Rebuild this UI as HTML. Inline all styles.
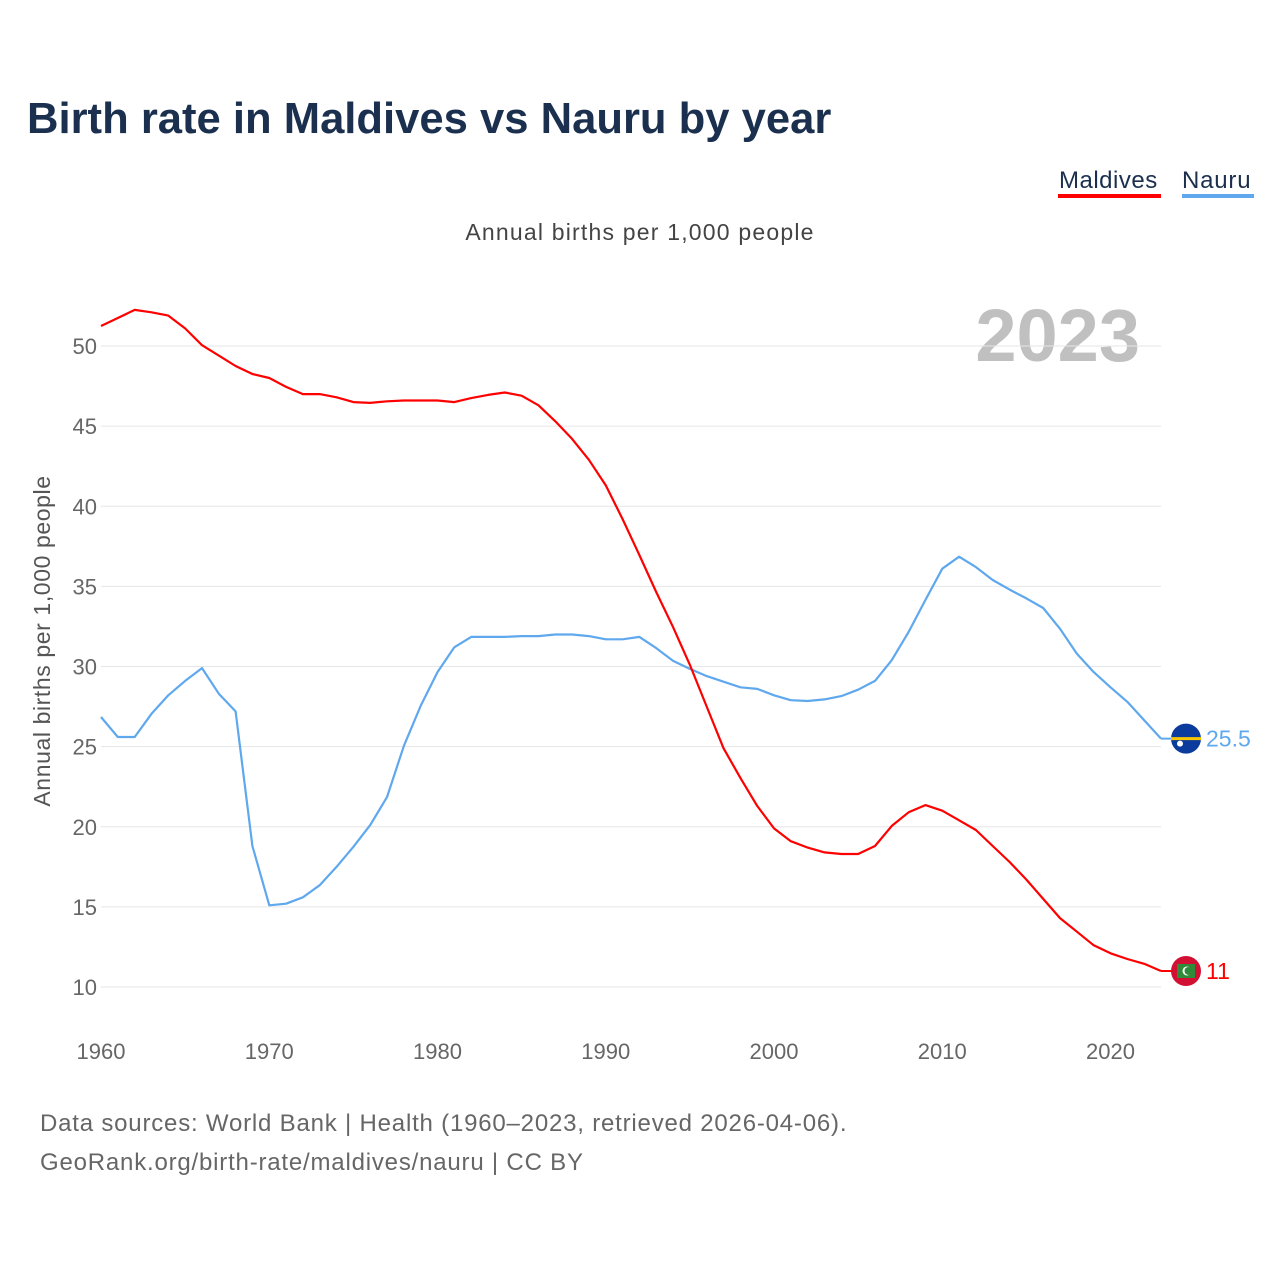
<!DOCTYPE html>
<html><head><meta charset="utf-8"><style>
body{margin:0;background:#fff;}
svg{display:block;font-family:"Liberation Sans",sans-serif;}
</style></head><body>
<svg id="chart" width="1280" height="1280">
<text x="27" y="133" font-size="43.6" font-weight="bold" fill="#1b2f4e">Birth rate in Maldives vs Nauru by year</text>
<g>
<text x="1059" y="188" font-size="24" fill="#1b2f4e" letter-spacing="0.5">Maldives</text>
<rect x="1058" y="194" width="103" height="4" fill="#ff0000"/>
<text x="1182" y="188" font-size="24" fill="#1b2f4e" letter-spacing="0.8">Nauru</text>
<rect x="1182" y="194" width="72" height="4" fill="#5fa8ee"/>
</g>
<text x="640" y="240" font-size="23" fill="#444" text-anchor="middle" letter-spacing="1.2">Annual births per 1,000 people</text>
<text x="1140" y="361" font-size="74" font-weight="bold" fill="#c0c0c0" text-anchor="end">2023</text>
<text transform="translate(50,641) rotate(-90)" font-size="23" fill="#555" text-anchor="middle" letter-spacing="0.6">Annual births per 1,000 people</text>
<g id="grid"></g><g id="yticks"></g><g id="xticks"></g><g id="series"></g><g id="ends"></g>
<text x="40" y="1131" font-size="24" fill="#666" letter-spacing="0.8">Data sources: World Bank | Health (1960–2023, retrieved 2026-04-06).</text>
<text x="40" y="1170" font-size="24" fill="#666" letter-spacing="0.8">GeoRank.org/birth-rate/maldives/nauru | CC BY</text>
</svg>
<script>
const years=[];for(let y=1960;y<=2023;y++)years.push(y);
const maldives=[51.25,51.75,52.25,52.1,51.9,51.1,50.05,49.4,48.75,48.25,48.0,47.45,47.0,47.0,46.8,46.5,46.45,46.55,46.6,46.6,46.6,46.5,46.75,46.95,47.1,46.9,46.3,45.3,44.2,42.9,41.3,39.2,36.95,34.65,32.45,30.1,27.5,24.9,23.05,21.3,19.9,19.1,18.7,18.4,18.3,18.3,18.8,20.05,20.9,21.35,21.0,20.4,19.8,18.8,17.8,16.7,15.5,14.3,13.45,12.6,12.1,11.75,11.45,11.0];
const nauru=[26.85,25.6,25.6,27.05,28.2,29.1,29.9,28.3,27.2,18.8,15.1,15.2,15.6,16.35,17.5,18.75,20.1,21.85,25.05,27.55,29.65,31.2,31.85,31.85,31.85,31.9,31.9,32.0,32.0,31.9,31.7,31.7,31.85,31.15,30.35,29.85,29.4,29.05,28.7,28.6,28.2,27.9,27.85,27.95,28.15,28.55,29.1,30.4,32.15,34.15,36.1,36.85,36.2,35.4,34.8,34.25,33.65,32.35,30.8,29.65,28.7,27.8,26.65,25.5];
const yTicks=[10,15,20,25,30,35,40,45,50];
const xTicks=[1960,1970,1980,1990,2000,2010,2020];
const NS="http://www.w3.org/2000/svg";
const xs=v=>101+(v-1960)*(1161-101)/63;
const ys=v=>987-(v-10)*(987-346)/40;
function mk(t,a,p){const e=document.createElementNS(NS,t);for(const k in a)e.setAttribute(k,a[k]);document.getElementById(p).appendChild(e);return e;}
yTicks.forEach(v=>{
 const l=mk('line',{x1:101,x2:1161,y1:ys(v),y2:ys(v),stroke:'#e6e6e6','stroke-width':1},'grid');
 
 
 const t=mk('text',{x:97,y:ys(v)+8,'font-size':22,fill:'#666','text-anchor':'end'},'yticks');t.textContent=v;
 
 
});
xTicks.forEach(v=>{
 const t=mk('text',{x:xs(v),y:1059,'font-size':22,fill:'#666','text-anchor':'middle'},'xticks');t.textContent=v;
 
 
});
function line(d,c,n){
 const p=mk('path',{d:d.map((v,i)=>(i?'L':'M')+xs(years[i]).toFixed(1)+','+ys(v).toFixed(1)).join(''),fill:'none',stroke:c,'stroke-width':2.2,'stroke-linejoin':'round'},'series');
 
 
}
line(nauru,'#5fa8ee','nauru-line');
line(maldives,'#ff0000','maldives-line');
function end(d,c,n,flag){
 const v=d[d.length-1],y=ys(v);
 const l=mk('line',{x1:1161,x2:1186,y1:y,y2:y,stroke:c,'stroke-width':2},'ends');
 
 
 const g=mk('g',{},'ends');
 
 
 g.innerHTML=flag(1186,y);
 const t=mk('text',{x:1206,y:y+8,'font-size':23,fill:c},'ends');t.textContent=v;
 
 
}
end(nauru,'#5fa8ee','nauru',(x,y)=>`<circle cx="${x}" cy="${y}" r="15" fill="#0b3b9c"/><rect x="${x-15}" y="${y-1.5}" width="30" height="3" fill="#f7c600"/><circle cx="${x-6}" cy="${y+5}" r="3" fill="#fff"/>`);
end(maldives,'#ff0000','maldives',(x,y)=>`<circle cx="${x}" cy="${y}" r="15" fill="#d21034"/><rect x="${x-9}" y="${y-7}" width="18" height="14" fill="#2e8b3a"/><circle cx="${x+1}" cy="${y}" r="4.5" fill="#fff"/><circle cx="${x+2.5}" cy="${y}" r="4" fill="#2e8b3a"/>`);
</script>
</body></html>
